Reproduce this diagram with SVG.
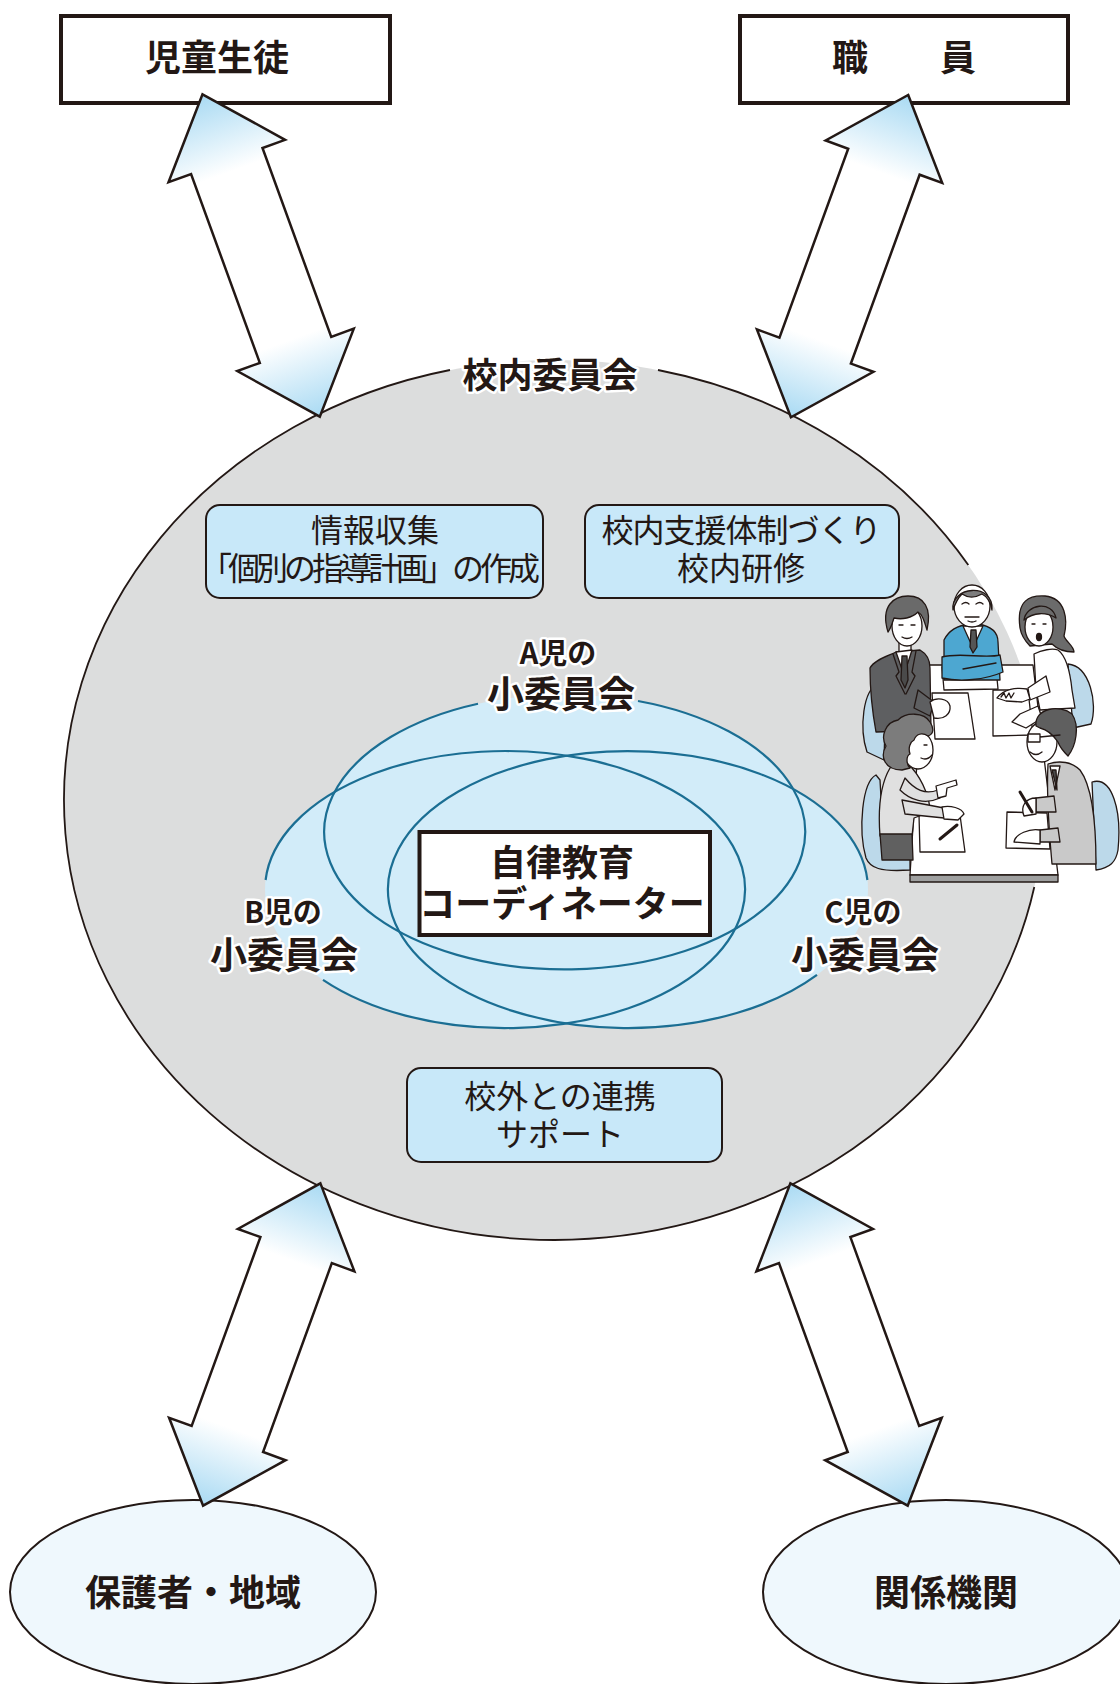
<svg xmlns="http://www.w3.org/2000/svg" width="1120" height="1684" viewBox="0 0 1120 1684">
  <style>
    .t { font-family: "Noto Sans CJK JP", "Noto Sans", sans-serif; fill: #231815; }
    .b { font-weight: 700; }
    .halo { stroke: #ffffff; stroke-width: 5; stroke-linejoin: round; paint-order: stroke; }
    .box { fill: #c8e8f9; stroke: #231815; stroke-width: 2; }
    .frame { fill: #ffffff; stroke: #231815; stroke-width: 4; }
    .venn { fill: none; stroke: #1b6e93; stroke-width: 2.2; }
    .oval { fill: #eff8fd; stroke: #231815; stroke-width: 2; }
    .ln { stroke: #231815; stroke-width: 1.3; stroke-linejoin: round; stroke-linecap: round; }
    .chair { fill: #bcd9ea; }
    .skin { fill: #ffffff; }
    .no { fill: none; }
  </style>
  <defs>
    <linearGradient id="arrowFill" gradientUnits="userSpaceOnUse" x1="0" y1="0" x2="0" y2="343">
      <stop offset="0" stop-color="#a9daf3"/>
      <stop offset="0.24" stop-color="#ffffff"/>
      <stop offset="0.76" stop-color="#ffffff"/>
      <stop offset="1" stop-color="#a9daf3"/>
    </linearGradient>
    <path id="dbl-arrow" d="M0,0 L62,71 L38,71 L38,272 L62,272 L0,343 L-62,272 L-38,272 L-38,71 L-62,71 Z"
          fill="url(#arrowFill)" stroke="#231815" stroke-width="2.5" stroke-linejoin="miter"/>
  </defs>

  <rect width="1120" height="1684" fill="#ffffff"/>

  <!-- school committee: large grey ellipse -->
  <g id="school-committee">
    <ellipse cx="554" cy="800" rx="490" ry="440" fill="#dcdddd"/>
    <path d="M658,370 A490,440 0 0 1 968.3,565 M1034.3,887 A490,440 0 1 1 450,370" fill="none" stroke="#231815" stroke-width="1.8"/>
    <text class="t b halo" x="550" y="388" font-size="35" text-anchor="middle">校内委員会</text>
  </g>

  <!-- task boxes inside the committee -->
  <g id="info-box">
    <rect class="box" x="206" y="505" width="337" height="93" rx="14"/>
    <text class="t" font-size="32"><tspan x="375" y="542" text-anchor="middle">情報収集</tspan><tspan x="200" y="580" letter-spacing="-4">「個別の指導計画」の作成</tspan></text>
  </g>
  <g id="support-box">
    <rect class="box" x="585" y="505" width="314" height="93" rx="14"/>
    <text class="t" font-size="32" text-anchor="middle"><tspan x="741" y="542" letter-spacing="-1">校内支援体制づくり</tspan><tspan x="741" y="580">校内研修</tspan></text>
  </g>
  <g id="outside-box">
    <rect class="box" x="407" y="1068" width="315" height="94" rx="14"/>
    <text class="t" font-size="32" text-anchor="middle"><tspan x="560" y="1108">校外との連携</tspan><tspan x="560" y="1146">サポート</tspan></text>
  </g>

  <!-- sub-committees for each child -->
  <g id="sub-committees">
    <ellipse cx="564.5" cy="832" rx="240.5" ry="137.5" fill="#d2ecf9"/>
    <ellipse cx="505" cy="889.5" rx="240" ry="138.5" fill="#d2ecf9"/>
    <ellipse cx="628" cy="889.5" rx="240" ry="138.5" fill="#d2ecf9"/>
    <path class="venn" d="M638,701 A240.5,137.5 0 1 1 478,703.7"/>
    <path class="venn" d="M265.6,880 A240,138.5 0 1 1 323,979.8"/>
    <path class="venn" d="M817,974.9 A240,138.5 0 1 1 867.4,880"/>
    <text class="t b halo" text-anchor="middle"><tspan x="558" y="664" font-size="29">A児の</tspan><tspan x="561" y="708" font-size="37">小委員会</tspan></text>
    <text class="t b halo" text-anchor="middle"><tspan x="283" y="923" font-size="29">B児の</tspan><tspan x="284" y="969" font-size="37">小委員会</tspan></text>
    <text class="t b halo" text-anchor="middle"><tspan x="863" y="923" font-size="29">C児の</tspan><tspan x="865" y="969" font-size="37">小委員会</tspan></text>
  </g>

  <g id="coordinator">
    <rect class="frame" x="419.5" y="832" width="290.5" height="103" stroke-width="3.5"/>
    <text class="t b" font-size="36" text-anchor="middle"><tspan x="562" y="876">自律教育</tspan><tspan x="562" y="917">コーディネーター</tspan></text>
  </g>

  <!-- meeting scene -->
  <g id="meeting-illustration" class="ln">
    <!-- chairs behind the far side -->
    <path class="chair" d="M878,684 C863,690 859,728 867,752 L884,760 L886,690 Z"/>
    <path class="chair" d="M1068,664 C1090,666 1098,704 1091,724 L1073,728 Z"/>
    <!-- table -->
    <polygon points="923,665 1033,665 1058,875 910,875" fill="#ffffff"/>
    <polygon points="910,875 1058,875 1058,882 910,882" fill="#9fa0a0"/>
    <!-- papers -->
    <polygon points="942,667 996,668 998,689 944,690" fill="#ffffff"/>
    <polygon points="932,693 968,693 975,739 935,739" fill="#ffffff"/>
    <polygon points="993,690 1028,690 1033,735 993,736" fill="#ffffff"/>
    <polygon points="919,815 960,815 965,852 920,852" fill="#ffffff"/>
    <polygon points="1007,812 1047,813 1050,849 1006,848" fill="#ffffff"/>
    <path class="no" d="M940,839 L957,825" stroke-width="3"/>

    <!-- older man, centre -->
    <path d="M944,640 C950,628 960,625 970,624 L978,624 C990,626 998,632 998,642 L1000,680 L944,680 Z" fill="#4da7d1"/>
    <path class="skin" d="M963,626 L973,648 L983,626 Z"/>
    <path d="M971,630 L976,630 L977,647 L973,653 L970,647 Z" fill="#555555"/>
    <path d="M942,657 C960,652 985,659 1000,655 L1003,672 C985,680 960,682 942,678 Z" fill="#4da7d1"/>
    <path class="no" d="M963,669 L996,663"/>
    <ellipse class="skin" cx="972" cy="606" rx="18" ry="21"/>
    <path d="M953,610 C950,586 994,582 992,610 C990,600 986,596 982,594 C975,598 968,598 962,594 C958,598 955,604 953,610 Z" fill="#7d7d7d"/>
    <path class="no" d="M962,604 q4,-3 7,0 M976,604 q4,-3 7,0 M965,617 h14 M968,621 q4,2 8,0"/>

    <!-- young man, top left -->
    <path d="M870,668 C874,660 888,656 896,652 L920,650 C927,654 930,660 930,668 L931,730 L876,732 C872,710 870,690 870,668 Z" fill="#5e5f61"/>
    <path class="skin" d="M899,640 L899,652 L911,652 L911,640 Z"/>
    <path class="skin" d="M896,652 L904,675 L912,650 Z"/>
    <path d="M902,656 L907,656 L908,680 L905,688 L901,680 Z" fill="#4a4a4a"/>
    <path class="no" d="M893,654 L899,672 L896,676 L905,694 M916,651 L912,672 L915,676 L906,694"/>
    <path d="M918,690 L934,702 L930,716 L914,708 Z" fill="#5e5f61"/>
    <path class="skin" d="M930,702 C936,697 948,698 950,706 C951,714 944,720 934,718 Z"/>
    <ellipse class="skin" cx="907" cy="626" rx="15" ry="20"/>
    <path d="M888,632 C880,606 894,596 908,596 C924,596 932,608 927,630 C924,620 922,614 918,612 C912,618 902,620 894,618 C892,624 891,628 888,632 Z" fill="#6a6a6a"/>
    <path class="no" d="M899,625 h4 M911,625 h4 M902,637 q5,3 10,0"/>

    <!-- woman, top right -->
    <path d="M1020,628 C1016,600 1030,595 1045,596 C1066,598 1068,620 1064,636 C1066,642 1074,646 1074,652 C1066,652 1058,650 1052,644 L1030,646 C1024,640 1021,634 1020,628 Z" fill="#6b6b6b"/>
    <path class="skin" d="M1034,654 C1042,650 1052,648 1058,650 C1066,656 1070,670 1072,690 L1075,708 L1040,710 L1036,690 Z"/>
    <path class="skin" d="M1046,676 L1028,688 L1030,700 L1050,692 Z"/>
    <path class="skin" d="M1027,689 C1016,687 1004,689 997,698 L1006,701 L1022,702 L1030,699 Z"/>
    <path class="no" d="M1001,697 l3,-4 l2,5 l3,-5 l2,5 l3,-5"/>
    <path class="skin" d="M1038,706 L1020,714 L1012,722 L1026,728 L1042,718 Z"/>
    <ellipse class="skin" cx="1039" cy="627" rx="14" ry="19"/>
    <path d="M1024,620 C1026,604 1052,600 1056,618 C1046,612 1034,612 1024,620 Z" fill="#6b6b6b"/>
    <path class="no" d="M1032,624 h3 M1043,624 h3"/>
    <ellipse cx="1039" cy="637" rx="2.5" ry="3.5" fill="#231815"/>

    <!-- woman, bottom left -->
    <path class="chair" d="M876,775 C862,782 858,830 866,858 C870,868 880,872 910,870 L910,856 L884,852 L880,780 Z"/>
    <path d="M890,768 C898,764 906,764 912,768 C924,782 930,800 930,812 L914,818 L912,836 L880,836 C878,810 880,785 890,768 Z" fill="#e0e0e0"/>
    <path d="M880,834 L912,834 L913,860 L882,860 Z" fill="#606060"/>
    <path d="M905,778 C915,790 925,795 938,790 L940,798 C925,805 910,800 900,790 Z" fill="#e0e0e0"/>
    <path class="skin" d="M936,786 L956,780 L957,785 L947,788 L946,796 L938,798 Z"/>
    <path d="M902,800 L944,808 L944,818 L905,814 Z" fill="#e0e0e0"/>
    <path class="skin" d="M942,807 C950,805 962,808 964,814 L958,820 L944,819 Z"/>
    <ellipse class="skin" cx="918" cy="750" rx="15" ry="19"/>
    <path d="M902,770 C884,770 880,756 886,746 C880,736 886,722 898,720 C906,712 924,712 930,722 C934,728 934,734 928,736 C922,732 916,734 914,740 C910,742 908,748 910,754 C906,756 906,764 910,768 Z" fill="#7c7c7c"/>
    <path class="no" d="M924,745 h3 M921,758 q6,3 11,-3"/>

    <!-- man with glasses, bottom right -->
    <path class="chair" d="M1092,782 C1112,776 1122,810 1118,850 C1116,862 1110,868 1096,870 Z"/>
    <path d="M1048,764 C1060,760 1072,762 1080,770 C1092,786 1096,820 1096,864 L1052,864 C1050,840 1046,800 1048,764 Z" fill="#c9c9c9"/>
    <path class="skin" d="M1050,766 L1055,790 L1060,766 Z"/>
    <path d="M1052,770 L1056,770 L1057,790 Z" fill="#4a4a4a"/>
    <path d="M1054,796 L1036,798 L1036,812 L1056,812 Z" fill="#c9c9c9"/>
    <path class="skin" d="M1036,798 C1026,798 1020,806 1024,816 L1036,814 Z"/>
    <path class="no" d="M1020,792 L1032,812" stroke-width="3"/>
    <path d="M1058,828 L1040,830 L1040,842 L1060,842 Z" fill="#c9c9c9"/>
    <path class="skin" d="M1040,830 C1030,828 1015,834 1014,842 L1040,844 Z"/>
    <ellipse class="skin" cx="1042" cy="742" rx="15" ry="20"/>
    <path d="M1036,726 C1034,708 1060,704 1072,714 C1080,726 1076,746 1068,756 C1064,752 1060,748 1058,742 C1054,736 1048,730 1040,728 Z" fill="#5f5f5f"/>
    <path class="no" d="M1028,734 h12 v8 h-12 Z M1040,737 L1060,735 M1030,752 q6,5 12,0"/>
  </g>

  <!-- outer partners -->
  <g id="pupils">
    <rect class="frame" x="61" y="16" width="329" height="87"/>
    <text class="t b" x="217" y="71" font-size="36" text-anchor="middle">児童生徒</text>
  </g>
  <g id="staff">
    <rect class="frame" x="740" y="16" width="328" height="87"/>
    <text class="t b" x="904" y="71" font-size="36" text-anchor="middle">職　　員</text>
  </g>
  <g id="guardians">
    <ellipse class="oval" cx="193" cy="1592" rx="183" ry="92"/>
    <text class="t b" x="193" y="1606" font-size="36" text-anchor="middle">保護者・地域</text>
  </g>
  <g id="agencies">
    <ellipse class="oval" cx="946" cy="1592" rx="183" ry="92"/>
    <text class="t b" x="946" y="1606" font-size="36" text-anchor="middle">関係機関</text>
  </g>

  <!-- two-way connectors -->
  <g id="connectors">
    <use href="#dbl-arrow" transform="translate(202.5,94.3) rotate(-20)"/>
    <use href="#dbl-arrow" transform="translate(908.2,95) rotate(20)"/>
    <use href="#dbl-arrow" transform="translate(320.4,1183.4) rotate(20)"/>
    <use href="#dbl-arrow" transform="translate(790.4,1183.4) rotate(-20)"/>
  </g>
</svg>
